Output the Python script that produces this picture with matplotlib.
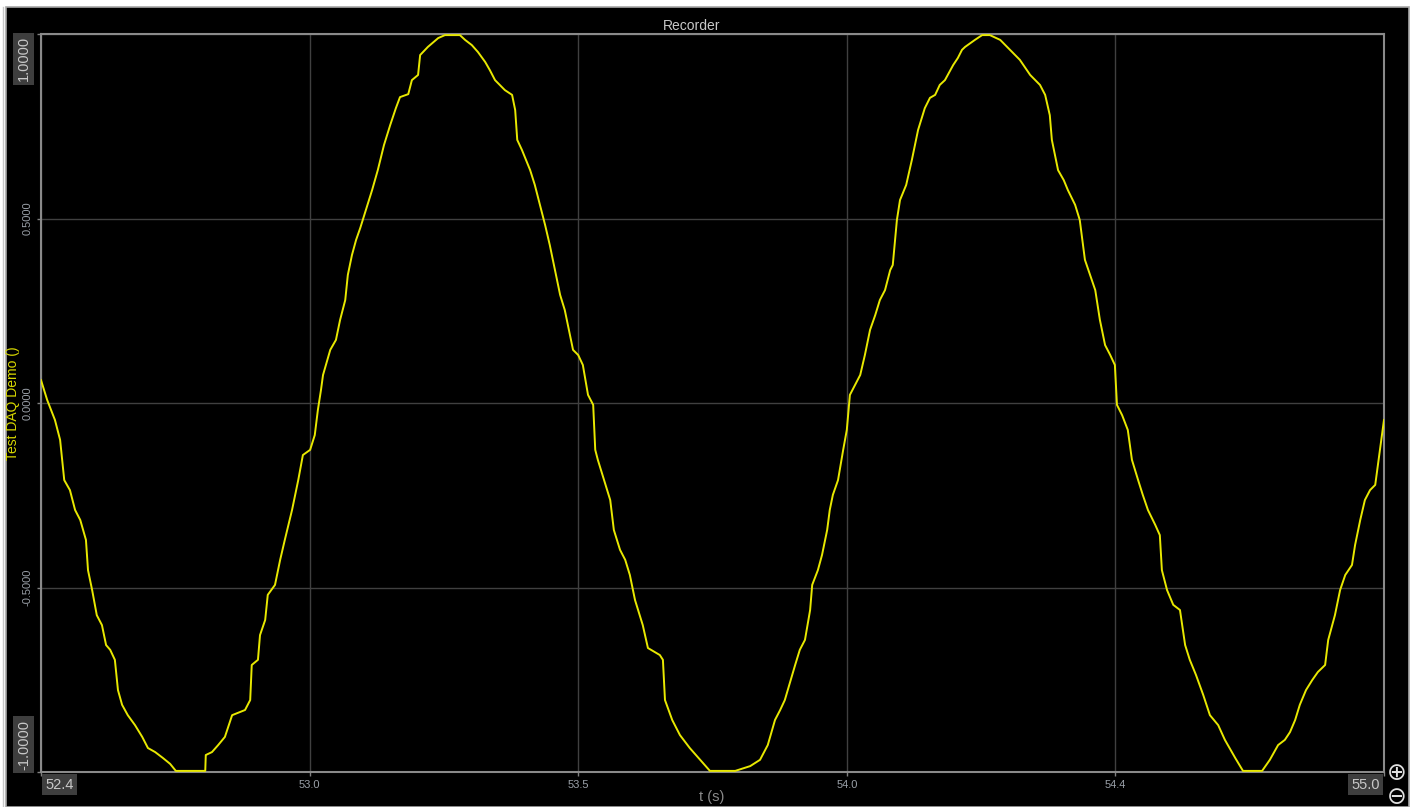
import matplotlib
matplotlib.use('Agg')
import matplotlib.pyplot as plt
from matplotlib.patches import Rectangle
from matplotlib.lines import Line2D

plt.rcParams['font.family'] = ['Liberation Sans', 'DejaVu Sans']

t = [52.400, 52.412, 52.427, 52.437, 52.445, 52.456, 52.466, 52.476, 52.487, 52.491,
     52.499, 52.508, 52.518, 52.526, 52.534, 52.543, 52.549, 52.557, 52.568, 52.582,
     52.596, 52.607, 52.621, 52.636, 52.650, 52.661, 52.718, 52.719, 52.731, 52.743,
     52.756, 52.770, 52.795, 52.805, 52.808, 52.820, 52.824, 52.834, 52.839, 52.853,
     52.863, 52.872, 52.886, 52.898, 52.907, 52.921, 52.930, 52.936, 52.942, 52.946,
     52.960, 52.971, 52.979, 52.989, 52.994, 53.002, 53.010, 53.018, 53.029, 53.041,
     53.052, 53.064, 53.076, 53.087, 53.095, 53.111, 53.118, 53.130, 53.134, 53.149,
     53.169, 53.182, 53.211, 53.221, 53.234, 53.246, 53.260, 53.269, 53.279, 53.298,
     53.312, 53.318, 53.322, 53.331, 53.347, 53.356, 53.366, 53.376, 53.385, 53.395,
     53.405, 53.414, 53.424, 53.430, 53.440, 53.449, 53.459, 53.469, 53.473, 53.478,
     53.490, 53.502, 53.509, 53.521, 53.531, 53.540, 53.550, 53.565, 53.575, 53.598,
     53.604, 53.608, 53.622, 53.637, 53.656, 53.676, 53.695, 53.744, 53.773, 53.792,
     53.807, 53.821, 53.831, 53.840, 53.860, 53.869, 53.879, 53.889, 53.893, 53.904,
     53.912, 53.922, 53.927, 53.933, 53.943, 53.953, 53.960, 53.966, 53.976, 53.986,
     53.995, 54.005, 54.015, 54.024, 54.034, 54.044, 54.049, 54.057, 54.063, 54.075,
     54.086, 54.098, 54.111, 54.121, 54.131, 54.140, 54.150, 54.166, 54.175, 54.183,
     54.189, 54.208, 54.222, 54.237, 54.257, 54.276, 54.295, 54.315, 54.334, 54.344,
     54.353, 54.357, 54.369, 54.380, 54.388, 54.402, 54.411, 54.421, 54.431, 54.441,
     54.450, 54.460, 54.470, 54.479, 54.483, 54.493, 54.504, 54.512, 54.524, 54.533,
     54.543, 54.557, 54.566, 54.570, 54.580, 54.592, 54.605, 54.615, 54.624, 54.636,
     54.650, 54.663, 54.679, 54.692, 54.712, 54.727, 54.764, 54.779, 54.795, 54.808,
     54.818, 54.828, 54.837, 54.849, 54.861, 54.872, 54.886, 54.892, 54.905, 54.915,
     54.925, 54.938, 54.944, 54.954, 54.963, 54.973, 54.983, 54.992, 54.996, 55.000]

v = [0.062, 0.008, -0.046, -0.100, -0.209, -0.236, -0.290, -0.317, -0.371, -0.453,
     -0.507, -0.575, -0.602, -0.656, -0.669, -0.696, -0.778, -0.818, -0.846, -0.873,
     -0.905, -0.935, -0.946, -0.962, -0.978, -0.997, -0.997, -0.954, -0.946, -0.927,
     -0.905, -0.846, -0.832, -0.805, -0.710, -0.696, -0.629, -0.588, -0.520, -0.493,
     -0.425, -0.371, -0.290, -0.209, -0.141, -0.127, -0.087, -0.019, 0.035, 0.076,
     0.144, 0.171, 0.225, 0.279, 0.347, 0.401, 0.442, 0.474, 0.523, 0.577,
     0.631, 0.699, 0.753, 0.799, 0.829, 0.837, 0.875, 0.889, 0.943, 0.965,
     0.989, 0.997, 0.997, 0.984, 0.970, 0.951, 0.924, 0.902, 0.875, 0.848,
     0.835, 0.794, 0.713, 0.686, 0.631, 0.591, 0.537, 0.482, 0.428, 0.360,
     0.293, 0.252, 0.184, 0.144, 0.130, 0.103, 0.022, -0.005, -0.127, -0.154,
     -0.209, -0.263, -0.344, -0.398, -0.425, -0.466, -0.534, -0.602, -0.664, -0.683,
     -0.696, -0.805, -0.859, -0.900, -0.935, -0.967, -0.997, -0.997, -0.984, -0.967,
     -0.927, -0.859, -0.832, -0.805, -0.710, -0.669, -0.642, -0.561, -0.493, -0.453,
     -0.412, -0.344, -0.290, -0.249, -0.209, -0.127, -0.073, 0.022, 0.049, 0.076,
     0.130, 0.198, 0.238, 0.279, 0.306, 0.360, 0.374, 0.496, 0.550, 0.591,
     0.659, 0.740, 0.799, 0.827, 0.835, 0.862, 0.875, 0.916, 0.935, 0.957,
     0.965, 0.984, 0.997, 0.997, 0.984, 0.957, 0.930, 0.889, 0.862, 0.835,
     0.780, 0.713, 0.631, 0.604, 0.577, 0.537, 0.496, 0.388, 0.347, 0.306,
     0.225, 0.157, 0.130, 0.103, -0.005, -0.033, -0.073, -0.154, -0.209, -0.249,
     -0.290, -0.330, -0.358, -0.453, -0.507, -0.547, -0.561, -0.656, -0.696, -0.737,
     -0.791, -0.846, -0.873, -0.913, -0.962, -0.997, -0.997, -0.967, -0.927, -0.913,
     -0.892, -0.859, -0.818, -0.778, -0.751, -0.729, -0.710, -0.642, -0.575, -0.507,
     -0.466, -0.439, -0.385, -0.317, -0.263, -0.236, -0.222, -0.127, -0.087, -0.046]

XLIM = (52.4, 55.0)
YLIM = (-1.0, 1.0)
XTICKS = [52.4, 52.92, 53.44, 53.96, 54.48, 55.0]
XTICK_LABELS = ['', '53.0', '53.5', '54.0', '54.4', '']
YTICKS = [-1.0, -0.5, 0.0, 0.5, 1.0]
YTICK_LABELS = ['', '-0.5000', '0.0000', '0.5000', '']

W, H = 1415, 807
fig = plt.figure(figsize=(W / 100, H / 100), dpi=100, facecolor='white')

# dark instrument panel behind the plot
fig.patches.append(Rectangle((6 / W, 0), 1403 / W, 800 / H, transform=fig.transFigure,
                             facecolor='black', edgecolor='#a8a8a8', linewidth=1.2, zorder=-10))
fig.add_artist(Line2D([2.5 / W, 2.5 / W], [0, 800 / H], color='#c8c8c8', linewidth=1.0, zorder=-10))

ax = fig.add_axes([41 / W, 35 / H, 1343 / W, 738 / H])
ax.set_zorder(2)
ax.set_facecolor('black')
ax.plot(t, v, color='#e8e800', linewidth=1.4, zorder=3)

ax.set_xlim(*XLIM)
ax.set_ylim(*YLIM)
ax.set_xticks(XTICKS)
ax.set_xticklabels(XTICK_LABELS)
ax.set_yticks(YTICKS)
ax.set_yticklabels(YTICK_LABELS, rotation=90, va='center')
ax.tick_params(colors='#808080', labelcolor='#9aa0a8', labelsize=8, length=3, width=1, pad=3)
ax.grid(True, color='#404040', linewidth=1.0)
for s in ax.spines.values():
    s.set_color('#8a8a8a')
    s.set_linewidth(1.5)

box = dict(facecolor='#3e3e3e', edgecolor='none', pad=2.5)
ax.text(0.003, -0.008, '52.4', transform=ax.transAxes, ha='left', va='top',
        fontsize=10.5, color='#c8c8c8', bbox=box)
ax.text(0.997, -0.008, '55.0', transform=ax.transAxes, ha='right', va='top',
        fontsize=10.5, color='#c8c8c8', bbox=box)
ax.text(-0.0075, 0.997, '1.0000', transform=ax.transAxes, ha='right', va='top',
        rotation=90, fontsize=10.5, color='#c8c8c8', bbox=box)
ax.text(-0.0075, 0.003, '-1.0000', transform=ax.transAxes, ha='right', va='bottom',
        rotation=90, fontsize=10.5, color='#c8c8c8', bbox=box)

fig.text(692 / W, 1 - 26 / H, 'Recorder', ha='center', va='center',
         fontsize=10, color='#c8c8c8')
fig.text(712 / W, 1 - 797 / H, 't (s)', ha='center', va='center',
         fontsize=10.5, color='#8a8a8a')
fig.text(13 / W, 1 - 403 / H, 'Test DAQ Demo ()', ha='center', va='center',
         rotation=90, fontsize=10, color='#d8d800')

# zoom buttons bottom right
fig.text(1397 / W, 1 - 773 / H, '\u2295', ha='center', va='center', fontsize=17,
         color='#e0e0e0', family='DejaVu Sans')
fig.text(1397 / W, 1 - 797 / H, '\u2296', ha='center', va='center', fontsize=17,
         color='#e0e0e0', family='DejaVu Sans')

fig.savefig('out.png', dpi=100, facecolor='white')
